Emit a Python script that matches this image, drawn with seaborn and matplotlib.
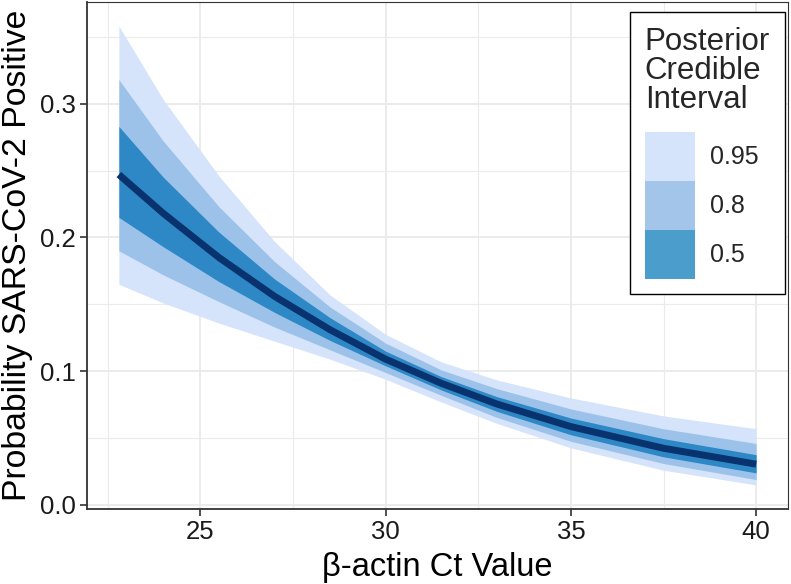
import numpy as np
import pandas as pd
import matplotlib
matplotlib.use("Agg")
import matplotlib.pyplot as plt
from matplotlib.patches import Patch
from matplotlib.ticker import MultipleLocator
import seaborn as sns

# values
ct = [22.8, 24.0, 25.5, 27.0, 28.5, 30.0, 31.5, 33.0, 35.0, 37.5, 40.0]
median = [0.247, 0.218, 0.185, 0.156, 0.131, 0.109, 0.091, 0.0755, 0.0586, 0.0424, 0.0305]
lo_50 = [0.215, 0.193, 0.167, 0.144, 0.123, 0.104, 0.086, 0.070, 0.0525, 0.036, 0.024]
hi_50 = [0.283, 0.245, 0.204, 0.169, 0.140, 0.115, 0.096, 0.081, 0.065, 0.0496, 0.0376]
lo_80 = [0.190, 0.172, 0.152, 0.133, 0.116, 0.099, 0.082, 0.0655, 0.0476, 0.031, 0.019]
hi_80 = [0.318, 0.272, 0.223, 0.182, 0.148, 0.121, 0.101, 0.087, 0.0718, 0.057, 0.046]
lo_95 = [0.165, 0.151, 0.136, 0.1225, 0.109, 0.094, 0.077, 0.061, 0.0427, 0.026, 0.015]
hi_95 = [0.358, 0.303, 0.246, 0.197, 0.157, 0.1275, 0.107, 0.0935, 0.080, 0.0666, 0.057]

levels = ["0.95", "0.8", "0.5"]
band_colors = ["#d5e4fa", "#9dc2ea", "#2f88c6"]
key_colors = ["#d5e4fa", "#a3c5e9", "#4b9dcb"]

df = pd.DataFrame({"ct": ct, "median": median})

sns.set_theme(style="whitegrid")
plt.rcParams["font.family"] = ["Liberation Sans", "DejaVu Sans"]

fig = plt.figure(figsize=(7.91, 5.84), dpi=100)
ax = fig.add_axes([87 / 791, 1 - 509 / 584, 701 / 791, 507 / 584])

# ribbons, widest first
for lo, hi, col in zip([lo_95, lo_80, lo_50], [hi_95, hi_80, hi_50], band_colors):
    ax.fill_between(ct, lo, hi, color=col, linewidth=0, zorder=2)

sns.lineplot(data=df, x="ct", y="median", color="#08336e", linewidth=5,
             solid_capstyle="butt", ax=ax, zorder=3)

ax.set_xlim(21.94, 40.86)
ax.set_ylim(-0.003, 0.376)
ax.xaxis.set_major_locator(MultipleLocator(5))
ax.xaxis.set_minor_locator(MultipleLocator(2.5))
ax.yaxis.set_major_locator(MultipleLocator(0.1))
ax.yaxis.set_minor_locator(MultipleLocator(0.05))
ax.yaxis.set_major_formatter(plt.FuncFormatter(lambda v, p: f"{v:.1f}"))

ax.set_facecolor("white")
ax.grid(which="major", color="#ebebeb", linewidth=1.4)
ax.grid(which="minor", color="#ebebeb", linewidth=0.8)
ax.set_axisbelow(True)
for side, sp in ax.spines.items():
    sp.set_color("#333333")
    sp.set_linewidth(1.3 if side in ("left", "bottom") else 0.8)

ax.tick_params(axis="both", which="major", length=5, width=1.2, color="#333333",
               labelsize=18.5, labelcolor="#1a1a1a", pad=3, bottom=True, left=True)
ax.tick_params(which="minor", length=0)

ax.set_xlabel("β-actin Ct Value", fontsize=23.5, color="black", labelpad=6)
ax.set_ylabel("Probability SARS-CoV-2 Positive", fontsize=24.3, color="black", labelpad=5)

handles = [Patch(facecolor=c, edgecolor="none") for c in key_colors]
leg = ax.legend(handles, levels, title="Posterior\nCredible\nInterval",
                loc="upper right", bbox_to_anchor=(0.9957, 0.980), borderaxespad=0,
                fontsize=18, title_fontsize=22.5, alignment="left",
                handlelength=2.0, handleheight=2.64, handletextpad=0.6,
                labelspacing=0, borderpad=0.6, fancybox=False,
                edgecolor="black", framealpha=1)
leg.get_frame().set_linewidth(1.0)
leg.get_title().set_linespacing(0.95)
leg._legend_box.sep = 12
leg.set_zorder(5)

fig.savefig("out.png", dpi=100)
